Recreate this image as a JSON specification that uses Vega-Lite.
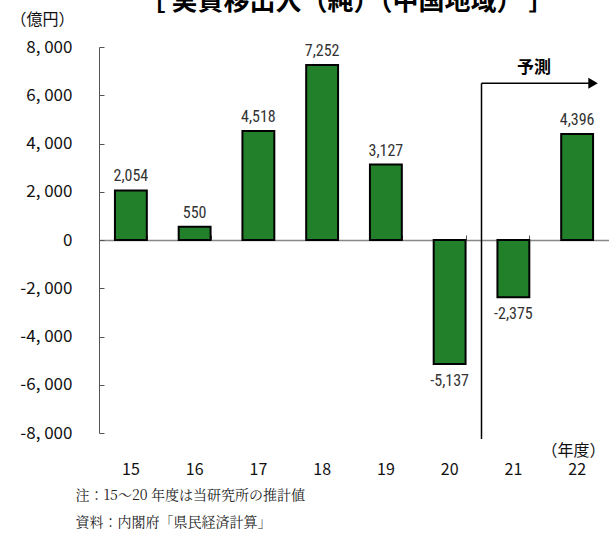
{
  "$schema": "https://vega.github.io/schema/vega-lite/v6.json",
  "width": 510,
  "height": 386,
  "autosize": "none",
  "padding": {"left": 99, "top": 47, "right": 0, "bottom": 100},
  "background": "white",
  "config": {
    "view": {"stroke": null},
    "font": "Noto Sans CJK JP",
    "locale": {"number": {"decimal": ".", "thousands": ",", "grouping": [3], "currency": ["", ""], "minus": "-"}}
  },
  "title": {
    "text": "［ 実質移出入（純）（中国地域） ］",
    "fontSize": 26,
    "fontWeight": "bold",
    "font": "Noto Sans CJK JP",
    "anchor": "middle",
    "frame": "group",
    "offset": -4,
    "dx": -7,
    "color": "#000"
  },
  "datasets": {
    "bars": [
      {"year": "15", "value": 2054},
      {"year": "16", "value": 550},
      {"year": "17", "value": 4518},
      {"year": "18", "value": 7252},
      {"year": "19", "value": 3127},
      {"year": "20", "value": -5137},
      {"year": "21", "value": -2375},
      {"year": "22", "value": 4396}
    ],
    "arrowV": [{"year": "20", "top": 6500, "bottom": -8250}],
    "arrowH": [{"from": "20", "to": "22", "level": 6500}],
    "note": [{"year": "21", "level": 6500, "text": "予測"}]
  },
  "resolve": {"axis": {"x": "independent", "y": "independent"}},
  "layer": [
    {
      "data": {"name": "bars"},
      "mark": {"type": "bar", "fill": "#22802a", "stroke": "#000", "strokeWidth": 2},
      "encoding": {
        "x": {
          "field": "year", "type": "ordinal",
          "scale": {"domain": ["15", "16", "17", "18", "19", "20", "21", "22"], "paddingInner": 0.5, "paddingOuter": 0.25},
          "axis": {
            "orient": "bottom", "domain": false, "ticks": false,
            "labelFontSize": 16, "labelColor": "#111", "labelPadding": 28, "labelAngle": 0,
            "title": ["注：15～20 年度は当研究所の推計値", "資料：内閣府「県民経済計算」"],
            "titleFont": "Noto Serif CJK JP, Noto Sans CJK JP",
            "titleFontSize": 14, "titleFontWeight": "normal", "titleColor": "#222",
            "titleAnchor": "start", "titleAlign": "left", "titleBaseline": "top",
            "titleX": -24, "titleY": 55, "titleLineHeight": 27
          }
        },
        "y": {
          "field": "value", "type": "quantitative",
          "scale": {"domain": [-8000, 8000], "nice": false},
          "axis": {
            "orient": "left", "grid": false,
            "values": [-8000, -6000, -4000, -2000, 0, 2000, 4000, 6000, 8000],
            "tickSize": -5, "labelPadding": 32,
            "labelExpr": "replace(format(datum.value, ','), ',', ', ')",
            "labelFontSize": 17, "labelColor": "#111",
            "domainColor": "#555", "tickColor": "#555",
            "title": "（億円）", "titleAngle": 0, "titleX": -57, "titleY": -28,
            "titleAlign": "center", "titleBaseline": "middle",
            "titleFontSize": 16, "titleFontWeight": "normal", "titleColor": "#111"
          }
        }
      }
    },
    {
      "data": {"name": "bars"},
      "transform": [{"filter": "datum.value >= 0"}],
      "mark": {"type": "text", "baseline": "alphabetic", "dy": -9, "fontSize": 16, "fontWeight": "normal", "font": "Liberation Sans Narrow, Roboto Condensed, Liberation Sans", "color": "#333"},
      "encoding": {
        "x": {"field": "year", "type": "ordinal", "axis": null},
        "y": {"field": "value", "type": "quantitative", "scale": {"domain": [-8000, 8000], "nice": false}, "axis": null},
        "text": {"field": "value", "type": "quantitative", "format": ","}
      }
    },
    {
      "data": {"name": "bars"},
      "transform": [{"filter": "datum.value < 0"}],
      "mark": {"type": "text", "baseline": "alphabetic", "dy": 22, "fontSize": 16, "fontWeight": "normal", "font": "Liberation Sans Narrow, Roboto Condensed, Liberation Sans", "color": "#333"},
      "encoding": {
        "x": {"field": "year", "type": "ordinal", "axis": null},
        "y": {"field": "value", "type": "quantitative", "scale": {"domain": [-8000, 8000], "nice": false}, "axis": null},
        "text": {"field": "value", "type": "quantitative", "format": ","}
      }
    },
    {
      "data": {"name": "arrowV"},
      "mark": {"type": "rule", "stroke": "#000", "strokeWidth": 1.5},
      "encoding": {
        "x": {
          "field": "year", "type": "ordinal", "bandPosition": 1.5,
          "axis": {
            "orient": "top", "offset": -193, "labels": false, "tickBand": "extent",
            "tickSize": 5, "domainColor": "#888", "domainWidth": 1.5, "tickColor": "#555",
            "title": "（年度）", "titleAngle": 0, "titleX": 474, "titleY": 210,
            "titleAlign": "center", "titleBaseline": "middle",
            "titleFontSize": 16, "titleFontWeight": "normal", "titleColor": "#111"
          }
        },
        "y": {"field": "top", "type": "quantitative", "scale": {"domain": [-8000, 8000], "nice": false}, "axis": null},
        "y2": {"field": "bottom"}
      }
    },
    {
      "data": {"name": "arrowH"},
      "mark": {"type": "rule", "stroke": "#000", "strokeWidth": 1.5},
      "encoding": {
        "x": {"field": "from", "type": "ordinal", "bandPosition": 1.5, "axis": null},
        "x2": {"field": "to", "bandPosition": 1.0},
        "y": {"field": "level", "type": "quantitative", "scale": {"domain": [-8000, 8000], "nice": false}, "axis": null}
      }
    },
    {
      "data": {"name": "arrowH"},
      "mark": {"type": "point", "shape": "triangle-right", "filled": true, "fill": "#000", "size": 120, "opacity": 1},
      "encoding": {
        "x": {"field": "to", "type": "ordinal", "bandPosition": 1.0, "axis": null},
        "y": {"field": "level", "type": "quantitative", "scale": {"domain": [-8000, 8000], "nice": false}, "axis": null}
      }
    },
    {
      "data": {"name": "note"},
      "mark": {"type": "text", "baseline": "alphabetic", "dy": -10, "fontSize": 17, "fontWeight": "bold", "color": "#000"},
      "encoding": {
        "x": {"field": "year", "type": "ordinal", "bandPosition": 1.15, "axis": null},
        "y": {"field": "level", "type": "quantitative", "scale": {"domain": [-8000, 8000], "nice": false}, "axis": null},
        "text": {"field": "text"}
      }
    }
  ]
}
